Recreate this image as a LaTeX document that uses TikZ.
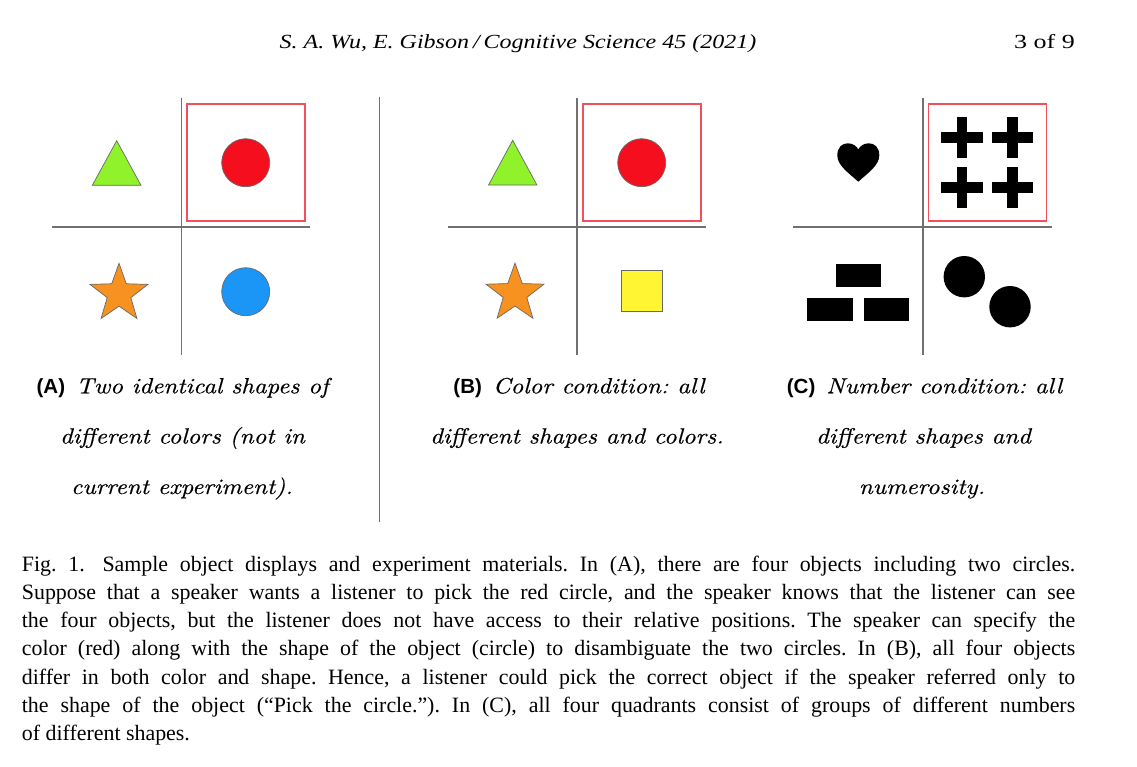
\documentclass[tikz,border=0pt]{standalone}
\usepackage{fontspec}
\newfontfamily\timesfont{Liberation Serif}
\newfontfamily\helvfont{Liberation Sans}
\newfontfamily\lmten[ItalicFont=lmroman10-italic.otf, ItalicFeatures={FakeBold=0.4}]{lmroman10-regular.otf}
\definecolor{gridgray}{RGB}{112,112,112}
\definecolor{framered}{RGB}{242,80,90}
\definecolor{outlinegray}{RGB}{105,105,105}
\definecolor{cgreen}{RGB}{143,242,43}
\definecolor{cred}{RGB}{245,14,30}
\definecolor{cblue}{RGB}{27,150,247}
\definecolor{corange}{RGB}{247,146,32}
\definecolor{cyellow}{RGB}{255,245,50}
\newcommand\plab[1]{{\helvfont\bfseries\fontsize{20.5}{24}\selectfont #1}\hspace{11pt}}
\newcommand\itx[1]{\scalebox{1.125}[1]{\itshape #1}}
\begin{document}
\frenchspacing
\begin{tikzpicture}[x=1pt,y=-1pt,
  gridline/.style={draw=gridgray, line width=1.6pt},
  frame/.style={draw=framered, line width=1.5pt},
  shapeline/.style={draw=outlinegray, line width=0.7pt},
  dot/.style={circle, shapeline, minimum size=48pt, inner sep=0pt},
  blackdot/.style={circle, fill=black, minimum size=41.4pt, inner sep=0pt},
  sqbox/.style={shapeline, minimum size=41pt, inner sep=0pt},
  captext/.style={font=\timesfont\fontsize{21.9}{28}\selectfont, anchor=base west, inner sep=0pt},
  headtext/.style={font=\timesfont\fontsize{20}{24}\selectfont, inner sep=0pt},
  subcap/.style={font=\lmten\fontsize{22}{26}\selectfont, anchor=base, inner sep=0pt},
  starpic/.pic={\draw[shapeline, fill=corange]
     (90:30.5pt) -- (126:12.4pt) -- (162:30.5pt) -- (198:12.4pt) -- (234:30.5pt)
     -- (270:12.4pt) -- (306:30.5pt) -- (342:12.4pt) -- (18:30.5pt) -- (54:12.4pt) -- cycle;},
  crosspic/.pic={\fill[black] (-20.65pt,-5.35pt) rectangle (20.65pt,5.35pt);
     \fill[black] (-5.35pt,-20.65pt) rectangle (5.35pt,20.65pt);},
  heartpic/.pic={\fill[black] (0pt,-19.2pt) .. controls (-9pt,-11pt) and (-21pt,-3pt) .. (-21pt,7pt)
     .. controls (-21pt,15.5pt) and (-16pt,19.2pt) .. (-10.5pt,19.2pt)
     .. controls (-5pt,19.2pt) and (-1.5pt,16pt) .. (0pt,13pt)
     .. controls (1.5pt,16pt) and (5pt,19.2pt) .. (10.5pt,19.2pt)
     .. controls (16pt,19.2pt) and (21pt,15.5pt) .. (21pt,7pt)
     .. controls (21pt,-3pt) and (9pt,-11pt) .. (0pt,-19.2pt) -- cycle;}
]
\useasboundingbox[fill=white] (0,0) rectangle (1137,766);

% header
\node[headtext, font=\timesfont\itshape\fontsize{20}{24}\selectfont, anchor=base] (hdr) at (518,48.3) {\scalebox{1.2}[1]{S. A. Wu, E. Gibson\,/\,Cognitive Science 45 (2021)}};
\node[headtext, anchor=base east] (pg) at (1075,48.3) {\scalebox{1.3}[1]{3 of 9}};

% separator
\draw[gridline] (379.3,97) -- (379.3,522);

% ---------- panel A ----------
\draw[gridline] (181.3,98) -- (181.3,355);
\draw[gridline] (52.3,226.7) -- (310,226.7);
\draw[frame] (187,104) rectangle (305,221);
\draw[shapeline, fill=cgreen] (116.7,140.7) -- (141,185.3) -- (92.3,185.3) -- cycle;
\node[dot, fill=cred] (Ared) at (245.7,162.7) {};
\pic at (119,293.8) {starpic};
\node[dot, fill=cblue] (Ablue) at (245.7,291.7) {};

% ---------- panel B ----------
\draw[gridline] (576.7,98) -- (576.7,355);
\draw[gridline] (448,226.7) -- (706,226.7);
\draw[frame] (583,104) rectangle (701,221);
\draw[shapeline, fill=cgreen] (512.7,140.3) -- (536.9,185) -- (488.5,185) -- cycle;
\node[dot, fill=cred] (Bred) at (641.7,162.7) {};
\pic at (515,293.6) {starpic};
\node[sqbox, fill=cyellow] (Bsq) at (641.5,291.3) {};

% ---------- panel C ----------
\draw[gridline] (922.7,98) -- (922.7,355);
\draw[gridline] (793.3,226.7) -- (1051.7,226.7);
\draw[frame] (928.3,104) rectangle (1046.7,221);
\pic at (858.3,162.5) {heartpic};
\pic at (962,137.7) {crosspic};
\pic at (1012.3,137.7) {crosspic};
\pic at (962,187.3) {crosspic};
\pic at (1012.3,187.3) {crosspic};
\fill[black] (835.7,264.3) rectangle (881,287.3);
\fill[black] (807.3,298.3) rectangle (852.7,321);
\fill[black] (864,298.3) rectangle (909.3,321);
\node[blackdot] (Cd1) at (964.3,276.7) {};
\node[blackdot] (Cd2) at (1010,306.7) {};

% ---------- sub captions ----------
\node[subcap] (a1) at (182.6,393.3) {\plab{(A)}\itx{Two identical shapes of}};
\node[subcap] (a2) at (182.5,443.5) {\itx{different colors (not in}};
\node[subcap] (a3) at (182,494) {\itx{current experiment).}};
\node[subcap] (b1) at (579,393.3) {\plab{(B)}\itx{Color condition: all}};
\node[subcap] (b2) at (577,443.5) {\itx{different shapes and colors.}};
\node[subcap] (c1) at (924.5,393.3) {\plab{(C)}\itx{Number condition: all}};
\node[subcap] (c2) at (923.5,443.5) {\itx{different shapes and}};
\node[subcap] (c3) at (922,494) {\itx{numerosity.}};

% ---------- figure caption ----------
\node[captext] (l1) at (21.7,571) {\makebox[1053.3pt][s]{Fig. 1.\hspace{6pt} Sample object displays and experiment materials. In (A), there are four objects including two circles.}};
\node[captext] (l2) at (21.7,599.3) {\makebox[1053.3pt][s]{Suppose that a speaker wants a listener to pick the red circle, and the speaker knows that the listener can see}};
\node[captext] (l3) at (21.7,627.6) {\makebox[1053.3pt][s]{the four objects, but the listener does not have access to their relative positions. The speaker can specify the}};
\node[captext] (l4) at (21.7,655.8) {\makebox[1053.3pt][s]{color (red) along with the shape of the object (circle) to disambiguate the two circles. In (B), all four objects}};
\node[captext] (l5) at (21.7,684) {\makebox[1053.3pt][s]{differ in both color and shape. Hence, a listener could pick the correct object if the speaker referred only to}};
\node[captext] (l6) at (21.7,712.2) {\makebox[1053.3pt][s]{the shape of the object (“Pick the circle.”). In (C), all four quadrants consist of groups of different numbers}};
\node[captext] (l7) at (21.7,740.4) {of different shapes.};
\end{tikzpicture}
\end{document}
